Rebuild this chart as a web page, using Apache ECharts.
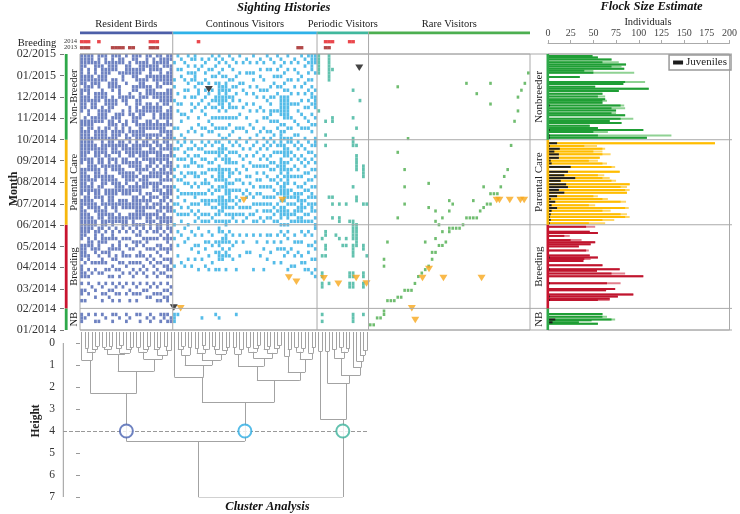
<!DOCTYPE html>
<html><head><meta charset="utf-8">
<script src="https://cdn.jsdelivr.net/npm/echarts@6/dist/echarts.min.js"></script>
<style>html,body{margin:0;padding:0;background:#fff}#c{width:740px;height:514px}</style>
</head><body><div id="c"></div>
<script>
// ---------------- DATA ----------------
const monthLabels = ['01/2014','02/2014','03/2014','04/2014','05/2014','06/2014','07/2014','08/2014','09/2014','10/2014','11/2014','12/2014','01/2015','02/2015'];
const monthStartDays = [0,31,59,90,120,151,181,212,243,273,304,334,365,396];
const groupNames = ['Resident Birds','Continous Visitors','Periodic Visitors','Rare Visitors'];
const groupStartCols = [0,27,69,84];
const totalCols = 131;
const groupColors = ['#4a63b2','#2aabe2','#3cb39b','#4cad4c'];
const groupBarColors = ['#4d5fa8','#2fb2e8','#41b89d','#4caf50'];
const periodNamesLeft = ['NB','Breeding','Parental Care','Non-Breeder'];
const periodNamesRight = ['NB','Breeding','Parental Care','Nonbreeder'];
const periodStartDays = [0,31,151,273];
const periodEndDays = [31,151,273,396];
const periodColors = ['#2ea84a','#c8142f','#f6b70c','#2ea84a'];
const periodLight = ['#8fd293','#e2808e','#ffd766','#8fd293'];
const periodDark = ['#1f9e35','#c0152e','#ffbd00','#1f9e35'];
const rowCount = 80;
const segLens = [25,25,15,1,6,3,3,2];

// sighting grid, one string per species column, rows from top (02/2015) to bottom (01/2014)
const residentCols = [
"#########.#######..###### #######.########.######## ####.#####.#### . #.##.# ... ### ..",
"####..#####.####..###.### ######..#######.###.##### ###..####.#..## . ..#..# ... .#. ..",
"###.####.#####..##.###### ####.####.##.#######.#### ##.###..##..#.# . #..#.. ... #.. ..",
"###...####...###..####..# ###..####..####..###..### #...###...#..#. . .#.... ... ... ..",
"..####.##..#####..##..### .####..#####..###.###..## .###..##..#.#.. . ..#.#. ... #.# ..",
"####..####.###..####.#### ..#####.###..####..####.. ##..###.#.#..#. . #..... ... ..# ..",
"#..#####..###..#####..### ####.###..####..###.##### #.###..#.##..#. . .#.#.# ... #.. ..",
"###.####...####.###..#### .####..######.##..####.## .#.##..#..#.#.. . #..#.. ... .#. ..",
"..####..##...####..###..# ##..####..##..#####..###. #..#..###...#.# . ..#.#. ... ... ..",
"#####..####.####..###.### ####.#.##.###.######.#### .###.##..#.#..# . #.#..# ... #.# ..",
"#.###..###...##..##.##### .###.####..#####..###.## #..#..#.##..#.. . .#.#.. ... #.. ..",
"###..#...####....###..##. ##.##..###..###..##..###. .#..###...#.#.# . #..#.# ... .#. ..",
".##..###....##..##..###.. ###..##.###..###.###..### #..#...##.#..#. . .#.... ... ... ..",
"#..###..#...###....##..## .###.##..####.##.###..### .#.#.#..#..#... . #..#.. ... #.# ..",
"..####.....##..###...##.# #.###.##.###.###..##.##.. #..#..#.#.#..#. . ..#..# ... .#. ..",
"##..###..##.#....###..##. .####.##.###.##.####.#### .#..#.#...#.#.# . #..#.. ... ... ..",
"###.####.##..####.###.### ####.####.#.###.#######.# #.#.##..#.#..#. . .#.#.# ... #.. ..",
"#.####.###.####.###.##### .####.####.#.###.######.# .##.#..##.#.#.. . #..#.. ... #.# ..",
"..###..###..#..###..####. ##.###..#.####..##.###..# #..#.#..#..#.#. . ..#... ... ... ..",
"####..##.####.###..###.## ##.###.##.####.#.###.###. .#.##.#..#..#.# . #.#.#. ... .#. ..",
"#..####..###..###..###.## .###.###.##.#..###.#.#### #..#..#.#.#.... . .#..#. ... #.# ..",
".####.##..###..####.##.#. #.##.##.###.###.#.##.#.# .#.#..#..#.#.#. . #..#.. ... .#. ..",
"#.###.####.##.###..###.## ##.###.#.##.###.#.#.###.# ##.#.#.#..#.#.# . .#.#.# ... ... ..",
"###.####.#.###.####.####. .######.#####.##.####.### #.#..##.#.#..#. . #..#.# ... #.# ..",
".###..###..####..##.###.# #.#.##.###.#.#.###.#.### .#.#..#..#.#.#. . ..#.#. ... ##. ..",
"####.####.#####.#####.### ###.####.###.####.###.### #.###.##.#.##.# . #.#.## ... #.# ..",
"##.######.####.####.#.### .####.####.#.###.#.##.## ##.#.##..##.#.# . .#.#.. ... .## .."
];
const continuousCols = [
"..#....#.#...#.......#..# ..#.#...#.#..#....#.#...# ...#.......#... . ...... ... ### ..",
"#...#......#..#.#....#... #.#..#.#...#..#.#.#..#.. .#...#..#...... . ...... ... #.. ..",
".#..#.#.......#..#.#...#. .#...#...#.#...#...#.#.#. ..#.......#.... . ...... ... ... ..",
"..#....#..#.#....#......# #..#.#.#..#.#..#.#...#... #...#......#... . ...... ... ... ..",
"#..#.#..#.#.......#...#.. ..#.#..#.#..#..#...#.#..# ...#.....#..... . ...... ... ... ..",
".#...#.#....#.#.#....#... #.#..##..#...#.#..#.#... .#....#....#... . ...... ... ... ..",
"##.#.###.#..#..#......#.. .#..#.#..##.#..##.#..#.#. ..#..#...#..... . ...... ... ... ..",
"....#...#.##..#...#.#.... ..#.#..#..#..#.#..#.#.#.. #....#.#....#.. . ...... ... ... ..",
".#.#....#....#..#....#.#. #.#..#.#.#..#..#.#...#.#. ..#......#..... . ...... ... .#. ..",
"..#..#.#..#.#..#.#...#... .#.#.#...#.##..#.##..#.#. ....#.#....#... . ...... ... ... ..",
".#..#...#..#..#....#..#.. #..#..#.#...#.#..##..#.#. .#..#...#...#.. . ...... ... ... ..",
"#...#.#...#..#.#..#.#.#.. .#.#..#.#.#..#.#.#.#..#.. ..#..#....#.... . ...... ... ... ..",
".#.#..#.#...##.#..#..#... #..#.#..#..#..#..#.#.#.# ....#..#....#.. . ...... ... #.. ..",
"#.#..#..#######.#.#..#.#. #.###..#####.##.###.##.# ##..##.###..#.. . ...... ... .#. ..",
".#..#.#..##.####..#..#..# .###.#..####.#..#####..# .#.##.#.##..... . ...... ... ... ..",
"..#...#.######..#.#..#..# ..#.###.#..#####.###.#.## ..###..##...#.. . ...... ... ... ..",
"#..#...#..#.#.##..#.#..#. #..#.##.###.#.####.#.#.# .#..#.#.#...... . ...... ... ... ..",
".#..#..#.#..##.#..#...#.. .#.#..#..#..#.#..#.#.##.. ..#..#...#..... . ...... ... ... ..",
"..#...#..#.#...#..#..#... #..#..#.#..#..#.#.#..#.# ....#.......#.. . ...... ... #.. ..",
"#....#..#....#...#...#..# .#..#....#.#..#..#.#.#.. ..#.....#...... . ...... ... ... ..",
"..#.....#.#....#.....#... ..#..#.#....#..#...#.#.# ....#.......... . ...... ... ... ..",
".#...#.....#..#...#...#.. #...#...#.#...#.#..#..#. ..#....#....... . ...... ... ... ..",
"..#..#...#......#...#...# ..#...#...#.#..#...#.#... .......#....... . ...... ... ... ..",
"#....#.#...#..#......#... .#..#..#.....#..#.#..#.# ..#.........#.. . ...... ... ... ..",
"..#......#..#...#..#...#. #..#...#.#.#...#..#.#..# ....#.......... . ...... ... ... ..",
".#..#.#...#....#......#.. ..#..#.#...#.#.#..#...#. ..#.....#...... . ...... ... ... ..",
"..#....#..#.#...#.#..#..# .#..#..#.#...#..#.#.#..# ......#.....#.. . ...... ... ... ..",
"#...#.....#..#....#...#.. #.#..#.#..#..#..#.#.#.#. ..#.#....#..... . ...... ... ... ..",
".#..#....#..#.#.##.#..#.# .#..#.#.#..#.#..#.#.#.#.. ..#....#....... . ...... ... ... ..",
"..#...#.#...#...#..#...#. #..#..#.#..#..#.#..#.#.# ....#.....#.... . ...... ... ... ..",
"#...#.#..#.#....#..#.#... .#.#...#..#.#..#..#.#..# ..#...#........ . ...... ... ... ..",
".#.#..#..#..######..#.### ##.#.#####.#.###.#.####.# .#..#.#...#.... . ...... ... ... ..",
"..#..#..#.#.#######.#.#.# .####.###.#.######.###..# ..#...#.#...... . ...... ... ... ..",
"#...#..#..#.#######..#..# #.###.#.#####.###.#.###.# .#.#...#....#.. . ...... ... ... ..",
"..#....#...#..#...#..#..# #..#.#..#.#...#.#.#..#.# ......#....#... . ...... ... ... ..",
".#..#....#....#....#...#. .#..#..#..#.#..##.#.##.# ..#.#...#..#.. . ...... ... ... ..",
"..#..#.#...#..#.#...#..#. #.#..#..#.#..#.###.##.## ....#..#....... . ...... ... ... ..",
"#.....#..#...#...#...#... .#..#.#...#..#.#.####.## .#..#...#.#.... . ...... ... ... ..",
".#.#....#..#...#..#..#..# ..#..#.#.#..#.#..#.#.#.# ..#.......#.#. . ...... ... ... ..",
"#.#..#.#..#..#.#...#.#.. #..#..#..#.#..#.#.#..#.# .#...#.#....#.. . ...... ... ... ..",
"#####..#.#.##.#..#..#.#.. .#.#.#..#..#.#.##.###..# ..#..#...#...#. . ...... ... ... ..",
"###..#....#.####..#.#...# ##..#.#.#.#..#..#.#.#.#.# #...#.#..#..#.# . ...... ... ... .."
];
const periodicCols = [
"######..........#........ ......................... ............... . ...... ... ... ..",
"......................... ......................... ...#....#....## . ##.... ... #.# ..",
"...................#...#. .#....................... .##..##.#...... . ...... ... ... ..",
"########................. ................#........ ............... . #..... ... ... ..",
"....#.............##..... ................#.#...#.. ............... . ...... ... ... ..",
"......................... ......................... ..#............ . ...... ... ... ..",
"......................... ..................#...##. ...#........... . ...... ... ... ..",
"......................... ......................... .....#......... . ...... ... ... ..",
"......................... ..................#...... ...#.#......... . ...... ... ... ..",
"......................... .......................#. .............## . ##.... ... ... ..",
"..........#.......#.....# ##...........#.........## ####.####....## . ##.... ... ### ..",
".....................#... .#..#####.......##......# ######......... . ...... ... ... ..",
".............#........... ......................... ............... . ...... ... ... ..",
"......................... .......####.......#...... .....##......## . ##.... ... #.. ..",
"......................... ..................#...... ........#...... . ...... ... ... .."
];
// rare visitors: [column, row]
const rarePoints = [[92,9],[112,8],[115,11],[119,8],[119,14],[130,5],[129,8],[128,10],[127,12],[127,16],[126,19],[95,24],[125,26],[92,28],[94,33],[124,33],[123,35],[94,38],[101,37],[117,38],[122,38],[119,40],[120,40],[121,40],[107,42],[108,43],[114,42],[118,43],[119,43],[94,43],[117,44],[101,44],[103,45],[116,45],[107,45],[105,47],[115,47],[92,47],[112,47],[113,47],[114,47],[103,48],[104,49],[111,49],[110,50],[109,50],[108,50],[107,50],[107,51],[105,51],[103,53],[89,54],[100,54],[106,54],[105,55],[104,55],[103,57],[102,57],[102,59],[88,59],[88,61],[101,61],[100,62],[99,63],[98,64],[97,66],[96,68],[95,68],[94,68],[93,70],[92,70],[91,71],[90,71],[89,71],[88,74],[88,75],[87,76],[86,76],[85,78],[84,78]];
// event markers: [column position, row position]
const orangeMarks = [[47.2,41.8],[58.4,41.8],[60.3,64.3],[62.5,65.5],[70.5,64.5],[74.7,66.1],[79.9,64.4],[82.9,66.0],[28.8,73.2],[96.1,73.2],[97.1,76.6],[99.2,64.4],[101.1,61.8],[105.3,64.4],[116.4,64.4],[120.8,41.8],[121.6,41.8],[124.6,41.8],[127.7,41.8],[128.8,41.8]];
const blackMarks = [[26.8,73.0],[37.0,9.7],[80.8,3.5]];
// breeding seasons (columns)
const breeding2014 = [0,1,2,5,20,21,22,34,71,72,73,78,79];
const breeding2013 = [0,1,2,9,10,11,12,14,15,20,21,22,63,64,71,72];

// flock size estimates (day index since 01/01/2014)
const flockDays  = [393,391,388,384,381,378,375,372,369,363,356,353,349,346,343,339,335,331,329,326,322,318,315,311,308,303,300,297,293,290,287,284,279,276,
  268,264,260,256,252,247,243,239,234,227,222,218,214,209,205,201,197,192,188,184,179,175,171,166,162,158,153,
  148,141,139,135,129,126,123,120,114,107,104,102,99,93,87,85,81,77,67,59,57,51,48,45,43,
  23,19,15,14,11,9];
const flockTotal = [49,55,70,78,86,81,84,50,95,35,107,83,52,111,78,60,63,63,65,60,84,85,75,75,85,94,68,81,46,55,105,66,136,109,
  184,54,63,60,69,57,55,65,74,79,62,68,75,90,87,90,87,55,66,86,52,89,69,87,90,73,63,
  52,46,55,24,37,52,47,34,45,46,55,47,39,60,79,54,85,105,80,74,64,94,77,68,68,
  60,65,74,48,34,55];
const flockDark  = [49,55,70,60,86,70,84,40,50,35,85,83,52,111,78,60,55,63,60,60,80,70,75,70,85,80,68,81,46,55,105,50,55,109,
  184,40,60,50,60,57,45,60,70,79,55,60,70,90,80,85,87,50,60,80,45,85,60,80,85,60,45,
  42,46,55,18,25,52,47,34,42,46,55,40,39,60,79,54,70,105,65,74,64,94,77,68,55,
  60,60,70,48,34,55];
const flockJuv   = [0,0,0,0,0,0,0,0,0,0,0,0,0,0,0,0,0,0,0,0,2,0,0,0,0,0,0,0,0,0,2,0,2,2,
  10,2,13,7,12,12,3,4,25,22,18,30,14,20,22,12,18,10,3,8,4,10,4,3,2,3,2,
  0,0,0,0,0,0,0,0,0,0,2,0,0,0,2,0,0,0,2,0,0,0,2,0,2,
  0,0,8,0,5,0];
const heightTicks = [0,1,2,3,4,5,6,7];

// cluster tree: [height, left, right]; leaves are column numbers
const clusterB = [2.27, [0.79, 0, [0.40, [0.22, 1, 2], [0.30, 3, [0.15, 4, 5]]]],
  [1.29, [0.53, [0.30, [0.18, 6, 7], [0.14, 8, 9]], [0.45, [0.25, 10, [0.12, 11, 12]], [0.30, 13, [0.20, 14, 15]]]],
         [0.73, [0.40, [0.20, 16, 17], [0.30, 18, [0.15, 19, 20]]], [0.55, [0.30, 21, [0.20, 22, 23]], [0.35, [0.15, 24, 25], 26]]]]];
const clusterC = [2.70,
  [1.54, 27, [1.00, [0.55, [0.30, 28, [0.15, 29, 30]], [0.20, 31, 32]],
                    [0.78, [0.45, [0.25, 33, 34], [0.30, [0.12, 35, 36], 37]], [0.50, [0.30, [0.15, 38, 39], 40], [0.35, 41, [0.20, 42, 43]]]]]],
  [1.71, [1.06, [0.50, [0.20, 44, 45], [0.30, 46, 47]],
                [0.70, [0.40, [0.20, 48, 49], [0.25, 50, [0.10, 51, 52]]], [0.45, [0.30, 53, [0.15, 54, 55]], [0.25, 56, [0.12, 57, 58]]]]],
         [1.33, [0.60, 59, [0.30, 60, 61]], [0.75, [0.40, [0.20, 62, 63], [0.25, 64, 65]], [0.45, 66, [0.20, 67, 68]]]]]];
const clusterT = [3.48, [0.38, 69, 70],
  [1.82, [0.38, 71, 72], [1.48, [0.68, [0.30, 73, 74], [0.40, [0.20, 75, 76], [0.25, 77, 78]]],
                               [1.09, 79, [0.83, 80, [0.55, 81, [0.35, 82, 83]]]]]]];
const clusterRoot = [7.0, [4.46, clusterB, clusterC], clusterT];
const cutHeight = 4;

// ---------------- BUILD ----------------
const FONT = 'Liberation Serif';
const DAYS = 396;
const rowDay = r => DAYS - (r + 0.5) * DAYS / rowCount;
function parseCols(cols, start) {
  const out = [];
  cols.forEach((s, k) => {
    const segs = s.trim().split(/\s+/);
    let full = '';
    segLens.forEach((L, j) => { let t = (segs[j] || ''); t = t.slice(0, L); while (t.length < L) t += '.'; full += t; });
    for (let r = 0; r < rowCount; r++) if (full[r] === '#') out.push([start + k + 0.5, rowDay(r)]);
  });
  return out;
}
const resData = parseCols(residentCols, groupStartCols[0]);
const conData = parseCols(continuousCols, groupStartCols[1]);
const perData = parseCols(periodicCols, groupStartCols[2]);
const rareData = rarePoints.map(p => [p[0] + 0.5, rowDay(p[1])]);
const orangeData = orangeMarks.map(p => [p[0] + 0.5, rowDay(p[1])]);
const blackData = blackMarks.map(p => [p[0] + 0.5, rowDay(p[1])]);

const dayCats = []; for (let i = 0; i <= DAYS; i++) dayCats.push(String(i));
const monthMap = {}; monthStartDays.forEach((d, k) => monthMap[String(d)] = monthLabels[k]);
const isMonth = idx => monthStartDays.indexOf(idx) >= 0;
const periodOf = d => { for (let k = periodStartDays.length - 1; k >= 0; k--) if (d >= periodStartDays[k]) return k; return 0; };

const totArr = new Array(DAYS + 1).fill('-'), darkArr = new Array(DAYS + 1).fill('-'), juvArr = new Array(DAYS + 1).fill('-');
flockDays.forEach((d, i) => {
  const p = periodOf(d);
  totArr[d] = { value: flockTotal[i], itemStyle: { color: periodLight[p] } };
  darkArr[d] = { value: flockDark[i], itemStyle: { color: periodDark[p] } };
  if (flockJuv[i] > 0) juvArr[d] = flockJuv[i];
});

function leafRange(n) { if (typeof n === 'number') return [n, n]; const a = leafRange(n[1]), b = leafRange(n[2]); return [Math.min(a[0], b[0]), Math.max(a[1], b[1])]; }
function nodeX(n) { const r = leafRange(n); return (r[0] + r[1]) / 2 + 0.5; }
const leafHang = -0.5;
const segs = [];
function walk(n, parentH) {
  const x = nodeX(n), h = (typeof n === 'number') ? leafHang : n[0];
  if (parentH !== undefined) segs.push([[x, h], [x, parentH]]);
  if (typeof n !== 'number') { segs.push([[nodeX(n[1]), h], [nodeX(n[2]), h]]); walk(n[1], h); walk(n[2], h); }
}
walk(clusterRoot);
const circleData = [clusterB, clusterC, clusterT].map((n, k) => ({ value: [nodeX(n), cutHeight], itemStyle: { color: groupColors[k], borderColor: groupColors[k] } }));

const colW = 450 / totalCols;
const chart = echarts.init(document.getElementById('c'));
const sq = (name, data, color, size) => ({ name, type: 'scatter', xAxisIndex: 1, yAxisIndex: 1, symbol: 'rect', symbolSize: size, data, itemStyle: { color }, silent: true });

chart.setOption({
  animation: false,
  textStyle: { fontFamily: FONT },
  grid: [
    { left: 80, top: 38.7, width: 450, height: 12 },
    { left: 80, top: 54, width: 450, height: 276, show: true, borderColor: '#aaaaaa', borderWidth: 1 },
    { left: 548, top: 54, width: 184, height: 276, show: true, borderColor: '#aaaaaa', borderWidth: 1 },
    { left: 63, top: 332, width: 80 + 84 * colW - 63, height: 165 }
  ],
  xAxis: [
    { gridIndex: 0, type: 'value', min: 0, max: totalCols, show: false },
    { gridIndex: 1, type: 'value', min: 0, max: totalCols, show: false },
    { gridIndex: 2, type: 'value', min: 0, max: 200, interval: 25, position: 'top', offset: 11,
      axisLine: { show: true, lineStyle: { color: '#aaaaaa' } }, axisTick: { show: true, length: 3, lineStyle: { color: '#aaaaaa' } },
      splitLine: { show: false }, axisLabel: { fontSize: 10, margin: 5, color: '#444', fontFamily: FONT } },
    { gridIndex: 3, type: 'value', min: -(80 - 63) / colW, max: 84, show: false }
  ],
  yAxis: [
    { gridIndex: 0, type: 'category', data: ['2013', '2014'], axisLine: { show: false }, axisTick: { show: false },
      axisLabel: { interval: 0, fontSize: 6.5, margin: 3, color: '#333', fontFamily: FONT } },
    { gridIndex: 1, type: 'value', min: 0, max: DAYS, show: false },
    { gridIndex: 1, type: 'category', data: dayCats, boundaryGap: false, position: 'left', offset: 16,
      axisLine: { show: false }, axisTick: { show: true, length: 4, interval: (i) => isMonth(i), lineStyle: { color: '#777' } },
      axisLabel: { interval: (i) => isMonth(i), formatter: v => monthMap[v] || '', margin: 8, fontSize: 12, color: '#333', fontFamily: FONT },
      splitLine: { show: false } },
    { gridIndex: 2, type: 'category', data: dayCats, boundaryGap: false, show: false },
    { gridIndex: 3, type: 'value', min: leafHang, max: 7, inverse: true,
      axisLine: { show: false }, axisTick: { show: true, length: 4, customValues: heightTicks, lineStyle: { color: '#999' } },
      axisLabel: { customValues: heightTicks, fontSize: 11.5, margin: 8, color: '#333', fontFamily: FONT },
      splitLine: { show: false } }
  ],
  legend: { data: ['Juveniles'], right: 9, top: 55, borderColor: '#999', borderWidth: 1.5, padding: [2, 4, 2, 4], itemGap: 4,
    itemWidth: 10, itemHeight: 4, icon: 'rect', textStyle: { fontFamily: FONT, fontSize: 11, color: '#222', padding: [0, 0, 0, -2] } },
  series: [
    { type: 'scatter', xAxisIndex: 0, yAxisIndex: 0, symbol: 'rect', symbolSize: [3.6, 3.3], silent: true,
      data: breeding2014.map(c => [c + 0.5, '2014']), itemStyle: { color: '#e5191f' } },
    { type: 'scatter', xAxisIndex: 0, yAxisIndex: 0, symbol: 'rect', symbolSize: [3.6, 3.3], silent: true,
      data: breeding2013.map(c => [c + 0.5, '2013']), itemStyle: { color: '#9f1b1b' } },
    sq('Resident Birds', resData, groupColors[0], [2.8, 3.45]),
    sq('Continous Visitors', conData, groupColors[1], [2.8, 3.45]),
    sq('Periodic Visitors', perData, groupColors[2], [2.8, 3.45]),
    sq('Rare Visitors', rareData, groupColors[3], [2.6, 3.1]),
    { type: 'scatter', xAxisIndex: 1, yAxisIndex: 1, symbol: 'triangle', symbolRotate: 180, symbolSize: [8, 6.5], silent: true,
      data: orangeData, itemStyle: { color: '#f7a81b' } },
    { type: 'scatter', xAxisIndex: 1, yAxisIndex: 1, symbol: 'triangle', symbolRotate: 180, symbolSize: [8, 6.5], silent: true,
      data: blackData, itemStyle: { color: '#151515' } },
    { name: 'Total', type: 'bar', xAxisIndex: 2, yAxisIndex: 3, barWidth: 2, barGap: '-100%', data: totArr, silent: true },
    { name: 'Adults', type: 'bar', xAxisIndex: 2, yAxisIndex: 3, barWidth: 2, barGap: '-100%', data: darkArr, silent: true },
    { name: 'Juveniles', type: 'bar', xAxisIndex: 2, yAxisIndex: 3, barWidth: 2, barGap: '-100%', data: juvArr, silent: true, itemStyle: { color: '#1c1c1c' } },
    { type: 'lines', coordinateSystem: 'cartesian2d', xAxisIndex: 3, yAxisIndex: 4, polyline: false, silent: true,
      lineStyle: { color: '#a3a3a3', width: 1, opacity: 1 }, data: segs.map(s => ({ coords: s })) },
    { type: 'scatter', xAxisIndex: 3, yAxisIndex: 4, symbol: 'emptyCircle', symbolSize: 13, silent: true, z: 5,
      itemStyle: { borderWidth: 1.5 }, data: circleData,
      markLine: { silent: true, symbol: 'none', label: { show: false }, lineStyle: { type: 'dashed', color: '#999', width: 1 }, data: [{ yAxis: cutHeight }] } }
  ]
});

// ---------------- DECORATIONS (positioned from the axes) ----------------
const PX = v => chart.convertToPixel({ xAxisIndex: 1 }, v);
const PY = v => chart.convertToPixel({ yAxisIndex: 1 }, v);
const PD = v => chart.convertToPixel({ yAxisIndex: 4 }, v);
const g = [];
const txt = (x, y, text, size, opts = {}) => g.push({ type: 'text', x, y, rotation: opts.rot || 0, silent: true, z: 10,
  style: { text, fontFamily: FONT, fontSize: size, fontWeight: opts.bold ? 'bold' : 'normal', fontStyle: opts.italic ? 'italic' : 'normal',
    fill: opts.color || '#222', align: opts.align || 'center', verticalAlign: 'middle' } });
const line = (x1, y1, x2, y2, color, w, dash) => g.push({ type: 'line', silent: true, z: 3, shape: { x1, y1, x2, y2 }, style: { stroke: color, lineWidth: w || 1, lineDash: dash } });

const gEnds = groupStartCols.concat([totalCols]);
for (let k = 0; k < groupNames.length; k++) {
  const x0 = PX(gEnds[k]), x1 = PX(gEnds[k + 1]);
  g.push({ type: 'rect', silent: true, shape: { x: x0, y: 31.5, width: x1 - x0, height: 2.8 }, style: { fill: groupBarColors[k] } });
  txt((x0 + x1) / 2, 23.8, groupNames[k], 10.5);
  if (k > 0) line(x0, 32, x0, PY(0), '#a8a8a8', 1);
}
[0, 31, 151, 273, 396].forEach(d => line(80, PY(d), 732, PY(d), '#aaaaaa', 1));
for (let k = 0; k < periodStartDays.length; k++) {
  const yTop = PY(periodEndDays[k]), yBot = PY(periodStartDays[k]);
  g.push({ type: 'rect', silent: true, z: 4, shape: { x: 64.8, y: yTop, width: 2.8, height: yBot - yTop }, style: { fill: periodColors[k] } });
  g.push({ type: 'rect', silent: true, z: 4, shape: { x: 546.5, y: yTop, width: 2.6, height: yBot - yTop }, style: { fill: periodColors[k] } });
  txt(73.8, (yTop + yBot) / 2, periodNamesLeft[k], 10.5, { rot: Math.PI / 2 });
  txt(539.5, (yTop + yBot) / 2, periodNamesRight[k], 11, { rot: Math.PI / 2 });
}
line(63.3, PD(0), 63.3, PD(7), '#999', 1);
txt(283.7, 7.5, 'Sighting Histories', 12.5, { bold: true, italic: true, color: '#111' });
txt(651.5, 7, 'Flock Size Estimate', 12.5, { bold: true, italic: true, color: '#111' });
txt(267.5, 507, 'Cluster Analysis', 12.5, { bold: true, italic: true, color: '#111' });
txt(648, 22.5, 'Individuals', 10.5);
txt(37, 43.5, 'Breeding', 10.5);
txt(14, 189, 'Month', 12, { bold: true, rot: Math.PI / 2 });
txt(36, 421, 'Height', 11.5, { bold: true, rot: Math.PI / 2 });
chart.setOption({ graphic: g });
</script></body></html>
